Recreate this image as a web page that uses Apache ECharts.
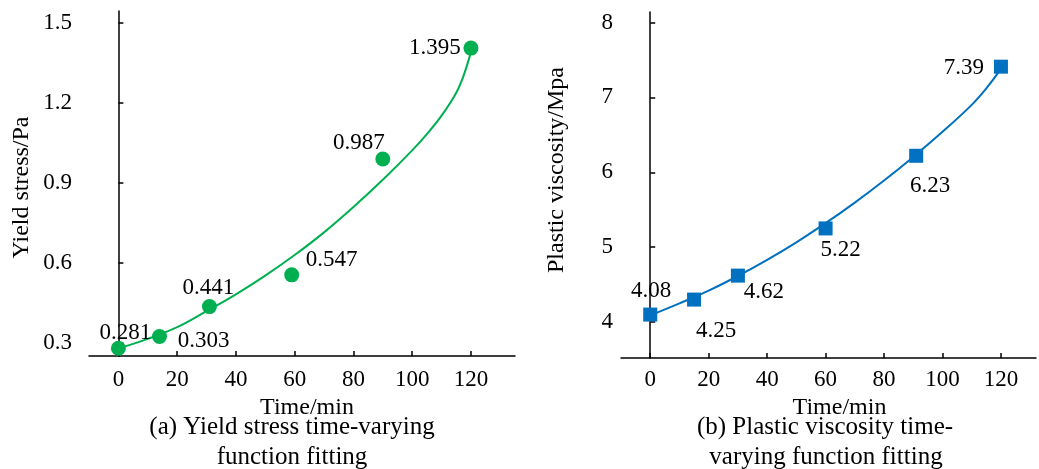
<!DOCTYPE html>
<html>
<head>
<meta charset="utf-8">
<script src="https://cdn.jsdelivr.net/npm/echarts@6/dist/echarts.min.js"></script>
<style>
html,body{margin:0;padding:0;background:#fff;}
#chart{width:1039px;height:469px;}
</style>
</head>
<body>
<div id="chart"></div>
<script>
// ---- data ----
const timeTicks = [0, 20, 40, 60, 80, 100, 120];
const yieldTicks = [0.3, 0.6, 0.9, 1.2, 1.5];
const viscTicks = [4, 5, 6, 7, 8];

const yieldTime = [0, 14, 31, 59, 90, 120];
const yieldValues = [0.281, 0.325, 0.437, 0.556, 0.99, 1.405];
const yieldLabels = ['0.281', '0.303', '0.441', '0.547', '0.987', '1.395'];

const yieldFitTime = [0, 10, 20, 30, 40, 50, 60, 70, 80, 90, 100, 105, 110, 115, 117.5, 120];
const yieldFitValues = [0.28, 0.316, 0.36, 0.42, 0.483, 0.553, 0.63, 0.715, 0.81, 0.912, 1.022, 1.083, 1.152, 1.238, 1.302, 1.39];

const viscTime = [0, 15, 30, 60, 91, 120];
const viscValues = [4.10, 4.30, 4.62, 5.25, 6.22, 7.41];
const viscLabels = ['4.08', '4.25', '4.62', '5.22', '6.23', '7.39'];

const viscFitTime = [0, 10, 20, 30, 40, 50, 60, 70, 80, 90, 100, 110, 115, 120];
const viscFitValues = [4.09, 4.25, 4.42, 4.615, 4.83, 5.065, 5.32, 5.595, 5.89, 6.205, 6.54, 6.90, 7.12, 7.38];

// label placement (layout only)
const yieldLabelOffsets = [[7, -15], [44, 4], [-1, -19], [40, -15], [-24, -16], [-36, 0]];
const viscLabelOffsets = [[1, -24], [22, 31], [26, 16], [15, 22], [14, 30], [-37, 1]];

const FONT = "Liberation Serif";
const GREEN = '#00B050';
const BLUE = '#0070C0';

function pairs(xs, ys) { return xs.map((x, i) => [x, ys[i]]); }
function labelled(xs, ys, labels, offsets) {
  return xs.map((x, i) => ({
    value: [x, ys[i]],
    label: { formatter: labels[i], offset: offsets[i] }
  }));
}
// show a label only where the reference has a tick label
function tickLabelFormatter(ticks, digits) {
  return v => {
    const hit = ticks.find(t => Math.abs(t - v) < 1e-6);
    return hit === undefined ? '' : hit.toFixed(digits);
  };
}

const axisLineStyle = { show: true, lineStyle: { color: '#000', width: 1.5 } };
const tickStyle = { show: true, inside: true, length: 5, lineStyle: { color: '#000', width: 1.5 } };
const labelStyle = { show: true, fontFamily: FONT, fontSize: 23, color: '#000', hideOverlap: false };

function xAxis(gridIndex, min, max, interval, margin, nameGap, namePad) {
  return {
    type: 'value', gridIndex, min, max, interval,
    name: 'Time/min', nameLocation: 'middle', nameGap,
    nameTextStyle: { fontFamily: FONT, fontSize: 24, color: '#000', padding: namePad },
    axisLine: axisLineStyle,
    axisTick: Object.assign({ customValues: timeTicks }, tickStyle),
    axisLabel: Object.assign({}, labelStyle, { margin, formatter: tickLabelFormatter(timeTicks, 0) }),
    splitLine: { show: false }
  };
}
function yAxis(gridIndex, min, max, interval, ticks, digits, name, margin, nameGap, namePad) {
  return {
    type: 'value', gridIndex, min, max, interval,
    name, nameLocation: 'middle', nameGap,
    nameTextStyle: { fontFamily: FONT, fontSize: 24, color: '#000', padding: namePad },
    axisLine: axisLineStyle,
    axisTick: Object.assign({ customValues: ticks }, tickStyle),
    axisLabel: Object.assign({}, labelStyle, { margin, formatter: tickLabelFormatter(ticks, digits) }),
    splitLine: { show: false }
  };
}

const chart = echarts.init(document.getElementById('chart'), null, { renderer: 'canvas' });
chart.setOption({
  backgroundColor: '#fff',
  animation: false,
  textStyle: { fontFamily: FONT, color: '#000' },
  grid: [
    { left: 89, top: 11, width: 426, height: 345 },
    { left: 621, top: 12, width: 417, height: 346 }
  ],
  xAxis: [
    xAxis(0, -10, 135, 10, 12, 35, [0, 0, 0, 10]),
    xAxis(1, -10, 132, 10, 10, 30, [0, 0, 0, 22])
  ],
  yAxis: [
    yAxis(0, 0.252, 1.544, 0.004, yieldTicks, 1, 'Yield stress/Pa', 17, 55, [0, 8, 0, 0]),
    yAxis(1, 3.52, 8.14, 0.04, viscTicks, 0, 'Plastic viscosity/Mpa', 8, 52, [0, 0, 0, 30])
  ],
  graphic: [
    { type: 'text', x: 292, y: 427, style: { text: '(a) Yield stress time-varying', font: '25px "Liberation Serif"', fill: '#000', textAlign: 'center', textVerticalAlign: 'middle' } },
    { type: 'text', x: 292, y: 457, style: { text: 'function fitting', font: '25px "Liberation Serif"', fill: '#000', textAlign: 'center', textVerticalAlign: 'middle' } },
    { type: 'text', x: 825, y: 427, style: { text: '(b) Plastic viscosity time-', font: '25px "Liberation Serif"', fill: '#000', textAlign: 'center', textVerticalAlign: 'middle' } },
    { type: 'text', x: 826, y: 457, style: { text: 'varying function fitting', font: '25px "Liberation Serif"', fill: '#000', textAlign: 'center', textVerticalAlign: 'middle' } }
  ],
  series: [
    {
      name: 'Yield stress fit', type: 'line', xAxisIndex: 0, yAxisIndex: 0,
      data: pairs(yieldFitTime, yieldFitValues), smooth: 0.4, showSymbol: false,
      lineStyle: { color: GREEN, width: 2 }, z: 2
    },
    {
      name: 'Yield stress', type: 'scatter', xAxisIndex: 0, yAxisIndex: 0,
      data: labelled(yieldTime, yieldValues, yieldLabels, yieldLabelOffsets),
      symbol: 'circle', symbolSize: 15, itemStyle: { color: GREEN, opacity: 1 },
      label: { show: true, position: 'inside', align: 'center', verticalAlign: 'middle', fontFamily: FONT, fontSize: 23, color: '#000', textBorderWidth: 0 },
      z: 3
    },
    {
      name: 'Plastic viscosity fit', type: 'line', xAxisIndex: 1, yAxisIndex: 1,
      data: pairs(viscFitTime, viscFitValues), smooth: 0.4, showSymbol: false,
      lineStyle: { color: BLUE, width: 2 }, z: 2
    },
    {
      name: 'Plastic viscosity', type: 'scatter', xAxisIndex: 1, yAxisIndex: 1,
      data: labelled(viscTime, viscValues, viscLabels, viscLabelOffsets),
      symbol: 'rect', symbolSize: 14, itemStyle: { color: BLUE, opacity: 1 },
      label: { show: true, position: 'inside', align: 'center', verticalAlign: 'middle', fontFamily: FONT, fontSize: 23, color: '#000', textBorderWidth: 0 },
      z: 3
    }
  ]
});
</script>
</body>
</html>
